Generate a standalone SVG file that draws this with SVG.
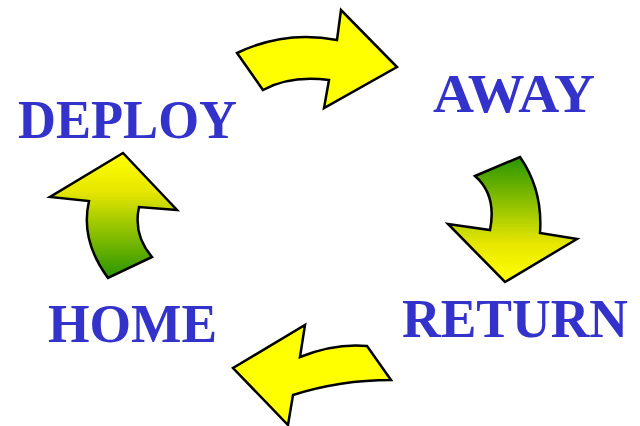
<svg xmlns="http://www.w3.org/2000/svg" width="640" height="426" viewBox="0 0 640 426">
<defs>
<style>
.lbl{font-family:"Liberation Serif","Times New Roman",serif;font-weight:bold;font-size:55px;fill:#3333cc}
.arr{stroke:#000;stroke-width:2.5;stroke-linejoin:miter}
</style>
<linearGradient id="gDown" gradientUnits="userSpaceOnUse" x1="0" y1="158" x2="0" y2="280">
<stop offset="0" stop-color="#2a9600"/>
<stop offset="0.7" stop-color="#e6e600"/>
<stop offset="1" stop-color="#ffff00"/>
</linearGradient>
<linearGradient id="gUp" gradientUnits="userSpaceOnUse" x1="0" y1="155" x2="0" y2="277">
<stop offset="0" stop-color="#ffff00"/>
<stop offset="0.3" stop-color="#e6e600"/>
<stop offset="1" stop-color="#2a9600"/>
</linearGradient>
</defs>
<rect width="640" height="426" fill="#fff"/>
<g id="connectors">
<path id="arrow-deploy-away" class="arr" fill="#ffff00" d="M237,53 Q285,30 337,40 L341,10 L397,67 L324,108 L329,80 Q290,75 263,90 Z"/>
<path id="arrow-away-return" class="arr" fill="url(#gDown)" d="M475,176 L520,157 Q543,190 540,233 L577,239 L505,282 L448,224 L490,230 Q497,195 475,176 Z"/>
<path id="arrow-return-home" class="arr" fill="#ffff00" d="M367,346 L391,380 Q340,380 293,395 L288,425 L233,368 L305,325 L300,357 Q335,343 367,346 Z"/>
<path id="arrow-home-deploy" class="arr" fill="url(#gUp)" d="M108,278 Q80,240 89,201 L50,197 L123,153 L177,210 L139,207 Q133,235 152,257 Z"/>
</g>
<g id="deploy"><text class="lbl" x="18" y="138" textLength="219" lengthAdjust="spacingAndGlyphs">DEPLOY</text></g>
<g id="away"><text class="lbl" x="433" y="112" textLength="162" lengthAdjust="spacingAndGlyphs">AWAY</text></g>
<g id="return"><text class="lbl" x="402" y="337" textLength="226" lengthAdjust="spacingAndGlyphs">RETURN</text></g>
<g id="home"><text class="lbl" x="48" y="342" textLength="169" lengthAdjust="spacingAndGlyphs">HOME</text></g>
</svg>
